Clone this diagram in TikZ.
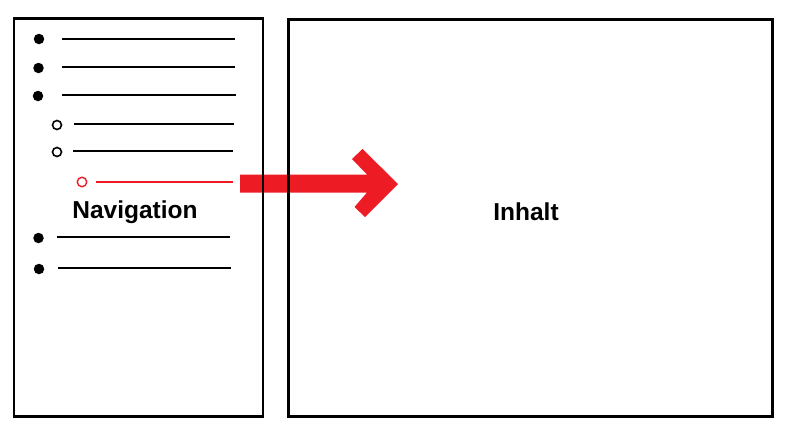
\documentclass[tikz,border=0pt]{standalone}
\usepackage{fontspec}
\setmainfont{Liberation Sans}
\definecolor{arrowred}{RGB}{237,28,36}
\begin{document}
\begin{tikzpicture}[x=1pt,y=-1pt,
  frame/.style={draw=black,line width=2.4pt,inner sep=0pt},
  bul/.style={fill=black,circle,inner sep=0pt,minimum size=10.5pt},
  obul/.style={draw=black,line width=1.6pt,circle,inner sep=0pt,minimum size=9pt},
  rbul/.style={draw=arrowred,line width=1.4pt,circle,inner sep=0pt,minimum size=9.5pt},
  rule/.style={line width=2.2pt,black},
  rrule/.style={line width=2pt,arrowred},
  lbl/.style={font=\fontsize{24.5}{28}\selectfont\bfseries,inner sep=0pt}]
\useasboundingbox (0,0) rectangle (800,437);
% arrow
\fill[arrowred] (240,174.5) -- (367,174.5) -- (352,159) -- (362.5,149) -- (398,184)
  -- (365,217) -- (354.5,207) -- (367,192.5) -- (240,192.5) -- cycle;
% boxes
\node[frame,minimum width=249pt,minimum height=398pt] (nav) at (138.5,217.5) {};
\node[frame,minimum width=484pt,minimum height=397pt] (content) at (530.5,218) {};
% list items
\node[bul] (b1) at (39,39) {};
\node[bul] (b2) at (38.5,68) {};
\node[bul] (b3) at (38,96) {};
\node[obul] (o1) at (57,125) {};
\node[obul] (o2) at (57,152) {};
\node[rbul] (r1) at (82,182) {};
\node[bul] (b4) at (38.5,238) {};
\node[bul] (b5) at (39,269) {};
\coordinate (l1a) at (62,39);  \coordinate (l1b) at (235,39);
\coordinate (l2a) at (62,67);  \coordinate (l2b) at (235,67);
\coordinate (l3a) at (62,95);  \coordinate (l3b) at (236,95);
\coordinate (l4a) at (74,124); \coordinate (l4b) at (234,124);
\coordinate (l5a) at (73,151); \coordinate (l5b) at (233,151);
\coordinate (l6a) at (96,182); \coordinate (l6b) at (233,182);
\coordinate (l7a) at (57,237); \coordinate (l7b) at (230,237);
\coordinate (l8a) at (58,268); \coordinate (l8b) at (231,268);
\draw[rule] (l1a) -- (l1b);
\draw[rule] (l2a) -- (l2b);
\draw[rule] (l3a) -- (l3b);
\draw[rule] (l4a) -- (l4b);
\draw[rule] (l5a) -- (l5b);
\draw[rrule] (l6a) -- (l6b);
\draw[rule] (l7a) -- (l7b);
\draw[rule] (l8a) -- (l8b);
% labels
\node[lbl] (navlbl) at (135,212) {Navigation};
\node[lbl] (inhalt) at (526,212) {Inhalt};
\end{tikzpicture}
\end{document}
